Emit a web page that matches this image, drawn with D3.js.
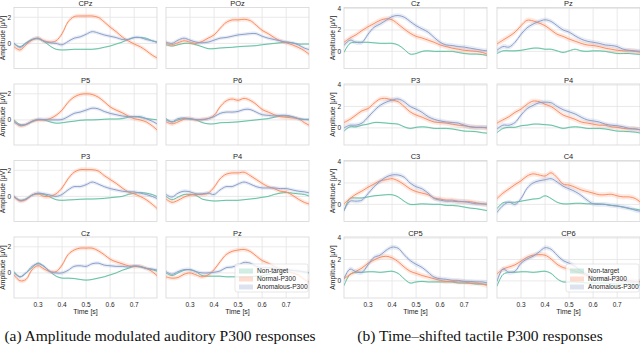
<!DOCTYPE html>
<html>
<head>
<meta charset="utf-8">
<script src="https://cdn.jsdelivr.net/npm/d3@7"></script>
<style>
  body { margin: 0; background: #fff; }
  svg { display: block; font-family: "Liberation Sans", Arial, sans-serif; }
</style>
</head>
<body>
<svg id="chart" width="640" height="345"></svg>
<script>
// time axis (s)
const times = [0.2, 0.225, 0.25, 0.275, 0.3, 0.325, 0.35, 0.375, 0.4, 0.425, 0.45, 0.475, 0.5,
  0.525, 0.55, 0.575, 0.6, 0.625, 0.65, 0.675, 0.7, 0.725, 0.75, 0.775, 0.8];
const timeTicks = [0.3, 0.4, 0.5, 0.6, 0.7];
const seriesNames = ['Non-target', 'Normal-P300', 'Anomalous-P300'];

// (a) auditory
const auditoryChannels = ['CPz', 'POz', 'P5', 'P6', 'P3', 'P4', 'Cz', 'Pz'];
const auditoryTicks = [0, 2];
const auditoryNonTarget = [
  [0,-0.25,0.05,0.3,0.35,0.15,-0.2,-0.45,-0.5,-0.48,-0.45,-0.45,-0.45,-0.45,-0.4,-0.3,-0.2,-0.05,0.1,0.3,0.45,0.45,0.4,0.2,0.1],
  [-0.1,-0.2,-0.1,0,0,-0.1,-0.25,-0.4,-0.4,-0.35,-0.32,-0.3,-0.25,-0.22,-0.2,-0.17,-0.1,-0.05,0,0.05,0.1,0.05,-0.05,-0.05,-0.05],
  [0,-0.35,-0.35,-0.15,0,0,-0.15,-0.25,-0.22,-0.15,-0.1,-0.03,0,0,0.02,0.05,0.07,0.07,0.1,0.2,0.25,0.2,0.1,0.05,0],
  [0.1,-0.15,0,0.1,0.05,0,-0.2,-0.3,-0.3,-0.22,-0.2,-0.18,-0.15,-0.1,-0.05,0,0.05,0.1,0.2,0.3,0.3,0.25,0.1,0.05,0.05],
  [0,-0.3,-0.2,0.1,0.2,0.15,-0.05,-0.25,-0.3,-0.27,-0.25,-0.22,-0.2,-0.2,-0.18,-0.15,-0.1,-0.05,0,0.15,0.25,0.3,0.25,0.15,-0.05],
  [0,-0.25,-0.05,0.15,0.15,0.08,-0.2,-0.3,-0.35,-0.33,-0.3,-0.3,-0.3,-0.25,-0.2,-0.15,-0.07,0,0.15,0.25,0.3,0.25,0.2,0.15,0],
  [0.1,-0.3,0,0.4,0.75,0.5,0.1,-0.25,-0.4,-0.4,-0.43,-0.5,-0.55,-0.5,-0.4,-0.3,-0.15,0,0.2,0.35,0.5,0.45,0.35,0.25,0.1],
  [0,-0.2,0,0.2,0.25,0.1,-0.2,-0.25,-0.25,-0.25,-0.3,-0.3,-0.3,-0.3,-0.3,-0.25,-0.2,-0.1,0,0.1,0.2,0.2,0.15,0.05,0]
];
const auditoryNormal = [
  [-0.25,-0.5,-0.1,0.25,0.4,0.2,0.1,0.2,0.75,1.65,2.05,2.1,2.1,2.1,2.0,1.65,1.25,0.9,0.5,0.2,-0.05,-0.25,-0.55,-0.9,-1.15],
  [0,-0.1,0.05,0.2,0.1,0,0.15,0.4,0.65,1.15,1.6,1.8,1.8,1.85,1.75,1.4,1.0,0.75,0.45,0.2,0.05,-0.1,-0.3,-0.55,-0.9],
  [-0.1,-0.45,-0.35,-0.1,0,0,0.1,0.35,0.75,1.35,1.75,1.95,2.0,1.95,1.75,1.4,1.0,0.75,0.55,0.3,0.1,0,-0.15,-0.45,-0.85],
  [-0.15,-0.3,-0.15,0.05,0.1,0,0.05,0.1,0.35,1.0,1.45,1.6,1.5,1.65,1.5,1.2,0.8,0.6,0.4,0.25,0.2,0.15,0.1,-0.2,-0.45],
  [-0.05,-0.35,-0.25,0.1,0.2,0,0,0.2,0.65,1.35,1.85,2.05,2.05,2.05,1.95,1.6,1.3,1.0,0.65,0.35,0.2,0,-0.25,-0.6,-1.0],
  [-0.2,-0.45,-0.3,-0.05,0.1,0.15,0.15,0.25,0.7,1.35,1.7,1.8,1.8,1.85,1.6,1.3,1.0,0.75,0.6,0.4,0.35,0.1,-0.2,-0.45,-0.6],
  [-0.15,-0.6,-0.5,0.25,0.55,0.3,0.1,0.1,0.6,1.4,1.75,1.9,1.9,1.9,1.7,1.4,1.05,0.85,0.7,0.55,0.5,0.5,0.35,0.1,-0.3],
  [-0.3,-0.4,-0.35,-0.1,0,-0.15,-0.3,-0.15,0.25,0.85,1.4,1.65,1.75,1.8,1.65,1.3,0.95,0.75,0.5,0.3,0.2,0,-0.15,-0.5,-0.75]
];
const auditoryAnomalous = [
  [0,-0.3,0,0.3,0.4,0.15,0.05,0,-0.1,0.15,0.4,0.5,0.7,0.9,0.8,0.65,0.55,0.45,0.3,0.3,0.45,0.45,0.3,0.2,0.05],
  [0.1,0,0.25,0.4,0.25,0.1,0.05,0.1,0.25,0.4,0.45,0.55,0.65,0.7,0.75,0.75,0.55,0.4,0.3,0.2,0.1,0.05,-0.1,-0.35,-0.5],
  [-0.15,-0.4,-0.35,-0.1,0.05,0.02,0,0,0.03,0.25,0.5,0.6,0.75,0.9,0.85,0.65,0.5,0.4,0.3,0.25,0.25,0.25,0.1,-0.1,-0.35],
  [0,-0.15,0.1,0.15,0.1,0.03,0,0.1,0.25,0.5,0.6,0.6,0.65,0.8,0.8,0.6,0.4,0.35,0.3,0.35,0.35,0.25,0.1,0.03,0],
  [0,-0.3,-0.2,0.1,0.25,0.2,0.1,0,0.15,0.5,0.75,0.75,0.9,1.1,0.95,0.75,0.6,0.5,0.4,0.35,0.35,0.25,0.15,0,-0.2],
  [0.15,-0.05,0.25,0.4,0.35,0.2,0.2,0.25,0.15,0.5,0.75,0.75,0.95,1.1,0.95,0.75,0.65,0.65,0.65,0.6,0.6,0.5,0.4,0.35,0.25],
  [0,-0.3,0,0.5,0.7,0.5,0.1,0,0,0.2,0.5,0.55,0.5,0.7,0.75,0.6,0.55,0.5,0.5,0.45,0.55,0.5,0.35,0.3,0.2],
  [0.1,-0.1,0.1,0.25,0.25,0.1,0,0,0.05,0.15,0.4,0.45,0.6,0.8,0.75,0.5,0.4,0.4,0.35,0.25,0.25,0.2,0.15,0.1,0]
];
const auditoryBand = [0.06, 0.17, 0.14];

// (b) tactile
const tactileChannels = ['Cz', 'Pz', 'P3', 'P4', 'C3', 'C4', 'CP5', 'CP6'];
const tactileTicks = [0, 2, 4];
const tactileNonTarget = [
  [-0.1,0.75,0.85,0.85,0.85,0.8,0.75,0.75,0.75,0.6,0.2,-0.25,-0.2,0,0.05,0,0,0,0,-0.1,-0.2,-0.25,-0.25,-0.3,-0.4],
  [-0.2,0.05,0.05,0.05,0.1,0.2,0.3,0.3,0.2,0.2,0.05,-0.1,0.05,0.2,0.05,0,0.05,0.05,0,-0.1,-0.2,-0.2,-0.2,-0.25,-0.3],
  [-0.3,0.1,0.1,0.25,0.35,0.5,0.5,0.45,0.4,0.35,0.1,-0.05,0.05,0.1,0.05,-0.05,-0.05,-0.05,-0.1,-0.2,-0.3,-0.32,-0.35,-0.45,-0.5],
  [-0.45,-0.05,0.05,0.05,0.2,0.25,0.35,0.35,0.3,0.25,0.1,-0.05,0.05,0.1,0.05,-0.05,-0.05,-0.05,-0.1,-0.2,-0.3,-0.32,-0.35,-0.4,-0.5],
  [-0.6,0.55,0.6,0.6,0.7,0.8,0.85,0.9,0.9,0.7,0.3,0,0,0.05,0.02,0,0,-0.1,-0.1,-0.15,-0.25,-0.35,-0.4,-0.5,-0.6],
  [-0.4,0.15,0.2,0.2,0.3,0.4,0.5,0.55,0.8,0.55,0.2,0.05,0.05,0.1,0.1,0.05,0.05,0.05,0,-0.1,-0.15,-0.25,-0.4,-0.45,-0.55],
  [-0.45,0.6,0.8,0.8,0.85,0.85,0.8,0.85,0.9,0.7,0.2,-0.2,-0.1,-0.05,-0.1,-0.1,-0.1,-0.1,-0.1,-0.2,-0.2,-0.22,-0.3,-0.3,-0.35],
  [-0.5,0.6,0.8,0.8,0.85,0.85,0.8,0.85,0.9,0.7,0.2,-0.1,-0.1,-0.1,-0.15,-0.2,-0.2,-0.2,-0.2,-0.25,-0.3,-0.3,-0.35,-0.38,-0.4]
];
const tactileNormal = [
  [0.85,1.25,1.55,1.95,2.3,2.6,2.9,3.05,2.95,2.55,2.1,1.7,1.4,1.25,1.05,0.85,0.6,0.45,0.3,0.2,0.1,0.05,0,-0.1,-0.3],
  [0.7,1.05,1.4,1.8,2.4,2.9,2.85,2.65,2.4,2.0,1.6,1.4,1.15,0.95,0.75,0.6,0.55,0.45,0.3,0.2,0.1,0.05,0.05,0,-0.1],
  [0.5,0.8,1.2,1.6,1.8,2.3,2.7,2.75,2.6,2.45,2.0,1.5,1.2,1.0,0.75,0.55,0.5,0.45,0.35,0.25,0.2,0.1,0.05,0.05,-0.05],
  [0.45,0.75,1.05,1.45,1.75,2.2,2.5,2.45,2.2,2.0,1.6,1.2,1.0,0.8,0.55,0.45,0.35,0.25,0.25,0.1,0.05,-0.05,-0.1,-0.1,-0.2],
  [0.05,0.55,0.95,1.25,1.6,1.9,2.2,2.3,2.4,2.2,1.85,1.45,1.2,1.05,0.9,0.6,0.5,0.4,0.4,0.3,0.25,0.25,0.15,0.05,0],
  [0.55,1.05,1.45,1.85,2.2,2.65,2.85,2.75,2.65,2.95,2.5,1.9,1.8,1.6,1.35,1.2,1.05,0.9,0.9,0.95,0.8,0.7,0.7,0.55,0.15],
  [0.2,0.6,0.9,1.2,1.65,1.95,2.2,2.3,2.15,1.8,1.3,0.9,0.7,0.5,0.35,0.2,0.05,-0.05,-0.05,-0.1,-0.1,-0.2,-0.2,-0.3,-0.45],
  [0.65,1.1,1.3,1.5,1.85,2.2,2.4,2.45,2.4,2.05,1.55,1.25,1.1,0.9,0.7,0.5,0.35,0.25,0.2,0.15,0.1,0.05,0.05,-0.05,-0.1]
];
const tactileAnomalous = [
  [0.55,1.05,0.85,0.85,1.6,2.25,2.55,2.9,3.25,3.35,3.2,2.8,2.4,2.1,1.8,1.3,0.85,0.6,0.55,0.45,0.4,0.3,0.2,0.1,0.05],
  [0.1,0.45,0.4,0.85,1.6,2.2,2.55,2.8,2.95,2.8,2.4,2.0,1.8,1.45,1.15,0.95,0.85,0.75,0.6,0.55,0.45,0.2,0.1,0.05,0],
  [0,0.25,0.25,0.45,1.0,1.6,2.1,2.4,2.6,2.7,2.45,2.0,1.75,1.45,1.05,0.8,0.65,0.55,0.5,0.45,0.25,0.1,0.05,0.05,0.05],
  [-0.1,0.25,0.25,0.5,1.2,1.8,2.1,2.35,2.4,2.35,2.0,1.7,1.5,1.3,1.0,0.75,0.65,0.55,0.35,0.25,0.2,0.1,-0.05,-0.1,-0.2],
  [-0.6,0.3,0.3,0.4,1.0,1.65,2.15,2.55,2.75,2.75,2.55,2.0,1.65,1.45,1.05,0.55,0.4,0.3,0.3,0.25,0.25,0.15,0.05,0.05,0],
  [-0.75,-0.1,0.2,0,0.55,1.5,2.0,2.2,2.3,2.4,2.1,1.7,1.45,1.2,0.85,0.4,0.05,0,0,-0.1,-0.15,-0.25,-0.35,-0.55,-0.65],
  [0.2,1.1,0.85,0.8,1.5,2.2,2.4,2.85,3.15,3.05,2.45,1.9,1.55,1.25,0.8,0.35,0.2,0.15,0.05,0.05,-0.05,-0.05,-0.1,-0.1,-0.2],
  [-0.05,1.1,0.8,0.9,1.65,2.05,2.3,2.7,3.1,2.95,2.4,1.9,1.65,1.35,0.9,0.6,0.35,0.25,0.2,0.2,0.05,0,-0.1,-0.1,-0.05]
];
const tactileBand = [0.08, 0.24, 0.22];

const colors = ['#66c2a5', '#fc8d62', '#8da0cb'];
const svg = d3.select('#chart');

const rowTops = [7.5, 84, 160.5, 237];
const plotW = 143, plotH = 61;
const textColor = '#262626';

function drawFigure(cfg) {
  cfg.channels.forEach((name, i) => {
    const col = i % 2, row = Math.floor(i / 2);
    const x0 = cfg.colX[col], y0 = rowTops[row];
    const x = d3.scaleLinear().domain([0.2, 0.795]).range([x0, x0 + plotW]);
    const y = d3.scaleLinear().domain(cfg.yDomain).range([y0 + plotH, y0]);
    const g = svg.append('g');
    const clipId = `clip-${cfg.id}-${i}`;
    g.append('clipPath').attr('id', clipId)
      .append('rect').attr('x', x0).attr('y', y0).attr('width', plotW).attr('height', plotH);

    // grid
    g.selectAll('.vg').data(timeTicks).join('line')
      .attr('x1', d => x(d)).attr('x2', d => x(d)).attr('y1', y0).attr('y2', y0 + plotH)
      .attr('stroke', '#e3e3e3').attr('stroke-width', 0.8);
    g.selectAll('.hg').data(cfg.yTicks).join('line')
      .attr('x1', x0).attr('x2', x0 + plotW).attr('y1', d => y(d)).attr('y2', d => y(d))
      .attr('stroke', '#e3e3e3').attr('stroke-width', 0.8);
    g.append('rect').attr('x', x0).attr('y', y0).attr('width', plotW).attr('height', plotH)
      .attr('fill', 'none').attr('stroke', '#d6d6d6').attr('stroke-width', 0.8);

    const plot = g.append('g').attr('clip-path', `url(#${clipId})`);
    const allSeries = [cfg.nonTarget[i], cfg.normal[i], cfg.anomalous[i]];
    allSeries.forEach((vals, s) => {
      const pts = times.map((t, k) => ({ t, v: vals[k] }));
      const band = d3.area().x(d => x(d.t))
        .y0(d => y(d.v - cfg.band[s])).y1(d => y(d.v + cfg.band[s]))
        .curve(d3.curveCatmullRom.alpha(0.5));
      const line = d3.line().x(d => x(d.t)).y(d => y(d.v))
        .curve(d3.curveCatmullRom.alpha(0.5));
      plot.append('path').datum(pts).attr('d', band)
        .attr('fill', colors[s]).attr('fill-opacity', 0.2);
      plot.append('path').datum(pts).attr('d', line)
        .attr('fill', 'none').attr('stroke', colors[s]).attr('stroke-width', 1.0);
    });

    // title
    g.append('text').attr('x', x0 + plotW / 2).attr('y', y0 - 1.3)
      .attr('text-anchor', 'middle').attr('font-size', 7.5).attr('fill', textColor).text(name);

    // y tick labels
    if (col === 0) {
      g.selectAll('.yt').data(cfg.yTicks).join('text')
        .attr('x', x0 - 3).attr('y', d => y(d)).attr('dy', '0.35em')
        .attr('text-anchor', 'end').attr('font-size', 6.5).attr('fill', textColor).text(d => d);
      g.append('text')
        .attr('transform', `translate(${x0 - cfg.labelOffset},${y0 + plotH / 2}) rotate(-90)`)
        .attr('text-anchor', 'middle').attr('font-size', 6.8).attr('fill', textColor)
        .text('Amplitude [μV]');
    }
    // x tick labels
    if (row === 3) {
      g.selectAll('.xt').data(timeTicks).join('text')
        .attr('x', d => x(d)).attr('y', y0 + plotH + 8.5)
        .attr('text-anchor', 'middle').attr('font-size', 6.5).attr('fill', textColor)
        .text(d => d3.format('.1f')(d));
      g.append('text').attr('x', x0 + plotW / 2).attr('y', y0 + plotH + 16)
        .attr('text-anchor', 'middle').attr('font-size', 7).attr('fill', textColor).text('Time [s]');
    }

    // legend in last panel
    if (i === cfg.channels.length - 1) {
      const lx = x0 + 69, ly = y0 + 27;
      const lg = g.append('g');
      lg.append('rect').attr('x', lx).attr('y', ly).attr('width', plotW - 70).attr('height', 28)
        .attr('rx', 2).attr('fill', '#fff').attr('fill-opacity', 0.8)
        .attr('stroke', '#d6d6d6').attr('stroke-width', 0.6);
      seriesNames.forEach((n, s) => {
        const ry = ly + 7 + s * 8;
        lg.append('rect').attr('x', lx + 4).attr('y', ry - 2.5).attr('width', 14).attr('height', 5)
          .attr('fill', colors[s]).attr('fill-opacity', 0.3);
        lg.append('text').attr('x', lx + 22).attr('y', ry).attr('dy', '0.35em')
          .attr('font-size', 6.6).attr('fill', textColor).text(n);
      });
    }
  });

  svg.append('text').attr('x', cfg.captionX).attr('y', 341)
    .attr('text-anchor', 'middle').attr('font-family', '"Liberation Serif", "Times New Roman", serif')
    .attr('font-size', 15.5).attr('fill', '#111').text(cfg.caption);
}

drawFigure({
  id: 'a', channels: auditoryChannels, colX: [14, 166], yDomain: [-1.92, 2.75], yTicks: auditoryTicks,
  nonTarget: auditoryNonTarget, normal: auditoryNormal, anomalous: auditoryAnomalous, band: auditoryBand,
  labelOffset: 9, captionX: 160, caption: '(a) Amplitude modulated auditory P300 responses'
});
drawFigure({
  id: 'b', channels: tactileChannels, colX: [344, 497], yDomain: [-1.6, 4.1], yTicks: tactileTicks,
  nonTarget: tactileNonTarget, normal: tactileNormal, anomalous: tactileAnomalous, band: tactileBand,
  labelOffset: 9, captionX: 480, caption: '(b) Time\u2013shifted tactile P300 responses'
});
</script>
</body>
</html>
